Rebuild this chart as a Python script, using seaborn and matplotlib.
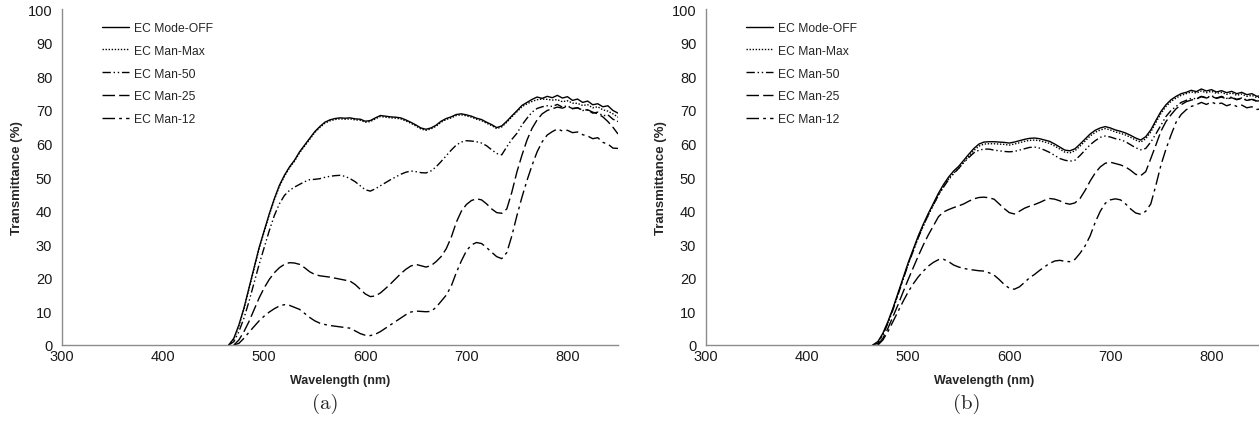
import pandas as pd
import matplotlib
matplotlib.use("Agg")
import matplotlib.pyplot as plt
import seaborn as sns

# ----------------------
# data (transmittance %, 5 nm steps)
# ----------------------
wavelength = list(range(460, 855, 5))

series_names = ["EC Mode-OFF", "EC Man-Max", "EC Man-50", "EC Man-25", "EC Man-12"]

# panel (a)
a_mode_off = [0, 0, 2, 6, 11, 17, 23, 29, 34, 39, 43.5, 47.5, 50.5, 53, 55, 57.5, 59.5, 61.5, 63.5, 65,
              66.3, 67, 67.4, 67.6, 67.5, 67.6, 67.3, 67.2, 66.6, 66.8, 67.6, 68.3, 68.1, 67.9, 67.8, 67.6,
              67.0, 66.3, 65.5, 64.6, 64.2, 64.6, 65.4, 66.6, 67.4, 67.9, 68.6, 68.8, 68.5, 68.1, 67.5, 67.1,
              66.3, 65.6, 64.7, 65.2, 66.6, 68.2, 69.7, 71.3, 72.2, 73.1, 73.8, 73.4, 74.0, 73.6, 74.3, 73.5,
              73.9, 72.8, 73.2, 72.2, 72.6, 71.5, 71.8, 70.9, 71.2, 69.8, 69.0]
a_man_max = [0, 0, 1.8, 5.7, 10.7, 16.7, 22.7, 28.7, 33.7, 38.7, 43.2, 47.2, 50.2, 52.7, 54.7, 57.2, 59.2, 61.2, 63.2, 64.7,
             66.0, 66.7, 67.1, 67.3, 67.2, 67.3, 67.0, 66.9, 66.3, 66.5, 67.3, 68.0, 67.8, 67.6, 67.5, 67.3,
             66.7, 66.0, 65.2, 64.3, 63.9, 64.3, 65.1, 66.3, 67.1, 67.6, 68.3, 68.5, 68.2, 67.8, 67.2, 66.8,
             66.0, 65.3, 64.4, 64.9, 66.3, 67.9, 69.4, 70.9, 71.8, 72.5, 73.0, 73.2, 73.1, 72.9, 73.0, 72.4,
             72.7, 72.0, 71.9, 71.3, 71.5, 70.6, 70.9, 70.0, 69.6, 68.8, 67.8]
a_man_50 = [0, 0, 1, 4, 8, 13, 18.5, 24, 29, 34, 38.5, 42, 44.5, 46, 47, 47.8, 48.6, 49.2, 49.3, 49.5,
            49.9, 50.2, 50.4, 50.5, 50.2, 49.5, 48.6, 47.4, 46.2, 45.8, 46.5, 47.4, 48.3, 49.2, 50.0, 50.8,
            51.4, 51.8, 51.6, 51.3, 51.2, 51.8, 53.0, 54.6, 56.3, 58.0, 59.5, 60.4, 60.8, 60.7, 60.5, 60.1,
            59.3, 58.1, 57.0, 56.6, 59.0, 61.2, 63.0, 65.5, 67.5, 69.3, 70.4, 70.9, 71.2, 71.0, 71.6, 70.8,
            71.2, 70.3, 70.6, 69.8, 69.9, 69.0, 69.3, 68.2, 68.5, 67.2, 66.5]
a_man_25 = [0, 0, 0, 1.5, 4, 7, 10.5, 14, 17, 19.5, 21.5, 23, 24, 24.5, 24.4, 24, 23, 21.8, 21, 20.6,
            20.4, 20.2, 19.9, 19.6, 19.3, 19.0, 18.0, 16.6, 15.2, 14.4, 14.6, 15.5, 16.8, 18.2, 19.7, 21.2,
            22.5, 23.5, 24.0, 23.6, 23.2, 23.6, 24.8, 26.3, 28.6, 32.0, 36.5, 39.8, 41.8, 43.0, 43.5, 43.2,
            42.0, 40.5, 39.4, 39.2, 40.5, 45.5, 51.5, 56.5, 61.0, 64.5, 67.0, 68.8, 69.8, 70.3, 70.8, 70.5,
            71.0, 70.4, 70.6, 69.9, 70.0, 69.3, 68.8, 67.9, 66.5, 64.8, 62.8]
a_man_12 = [0, 0, 0, 0.5, 2, 3.8, 5.5, 7.2, 8.6, 9.8, 10.8, 11.6, 12.0, 11.8, 11.2, 10.6, 9.4, 8.2, 7.2, 6.5,
            6.1, 5.8, 5.6, 5.4, 5.2, 5.0, 4.2, 3.4, 2.9, 2.8, 3.2, 4.0, 5.0, 6.0, 7.0, 8.0,
            9.0, 9.8, 10.1, 10.0, 9.9, 10.0, 11.2, 13.0, 14.8, 17.5, 21.5, 25.0, 28.0, 29.8, 30.5, 30.2,
            29.0, 27.6, 26.3, 25.7, 27.5, 32.5, 38.5, 44.0, 49.0, 53.5, 57.5, 60.5, 62.5, 63.5, 64.3, 63.7,
            63.9, 63.2, 63.4, 62.6, 62.2, 61.4, 61.7, 60.3, 59.8, 58.6, 58.5]

# panel (b)
b_mode_off = [0, 0, 1, 3.5, 7, 11, 15.5, 20, 24.5, 28.5, 32.5, 36, 39.2, 42.2, 45.2, 47.8, 50, 51.8, 53.2, 55.0,
              56.8, 58.5, 59.8, 60.4, 60.5, 60.5, 60.4, 60.3, 60.1, 60.4, 60.8, 61.2, 61.5, 61.6, 61.4, 61.0,
              60.6, 59.8, 58.9, 58.0, 57.8, 58.4, 59.8, 61.3, 62.8, 63.9, 64.6, 65.0, 64.6, 64.0, 63.6, 63.1,
              62.4, 61.6, 61.0, 62.0, 64.0, 66.8, 69.5, 71.5, 73.0, 74.0, 74.8, 75.2, 75.8, 75.4, 76.2, 75.6,
              76.0, 75.3, 75.7, 75.1, 75.5, 74.8, 75.2, 74.5, 74.8, 74.0, 74.3]
b_man_max = [0, 0, 0.8, 3.2, 6.7, 10.7, 15.2, 19.6, 24.0, 28.0, 32.0, 35.5, 38.7, 41.7, 44.7, 47.2, 49.4, 51.2, 52.6, 54.4,
             56.2, 57.9, 59.2, 59.8, 59.9, 59.9, 59.8, 59.7, 59.5, 59.8, 60.2, 60.6, 60.9, 61.0, 60.8, 60.4,
             60.0, 59.2, 58.3, 57.4, 57.2, 57.8, 59.2, 60.7, 62.2, 63.3, 64.0, 64.4, 64.0, 63.4, 63.0, 62.5,
             61.8, 61.0, 60.4, 61.4, 63.4, 66.2, 68.9, 71.0, 72.5, 73.5, 74.3, 74.8, 75.3, 75.0, 75.6, 75.1,
             75.5, 74.9, 75.2, 74.6, 75.0, 74.3, 74.7, 74.0, 74.3, 73.6, 73.9]
b_man_50 = [0, 0, 0.5, 3, 6.5, 10.5, 15, 19.5, 24, 28, 32, 35.5, 38.8, 41.8, 44.6, 47, 49.2, 51, 52.6, 54.3,
            55.8, 57.2, 58.0, 58.3, 58.3, 58.0, 57.8, 57.6, 57.5, 57.6, 58.0, 58.4, 58.8, 58.9, 58.6, 58.0,
            57.3, 56.4, 55.5, 55.0, 54.7, 55.0, 56.4, 58.0, 59.6, 60.8, 61.8, 62.2, 61.9, 61.4, 61.1, 60.5,
            59.6, 58.7, 58.1, 58.5, 60.4, 62.8, 65.4, 68.0, 69.8, 71.0, 72.2, 72.8, 73.4, 73.3, 74.0, 73.6,
            74.2, 73.5, 74.0, 73.4, 73.8, 73.1, 73.5, 72.9, 73.2, 72.6, 72.8]
b_man_25 = [0, 0, 0, 2, 5, 8.5, 12, 15.8, 19.5, 23, 26.5, 29.8, 32.8, 35.5, 38.2, 39.6, 40.3, 40.9, 41.4, 42.0,
            42.8, 43.5, 43.9, 44.0, 43.8, 43.4, 42.0, 40.6, 39.4, 39.0, 39.8, 40.7, 41.3, 41.8, 42.4, 43.1,
            43.6, 43.4, 42.9, 42.2, 41.9, 42.3, 43.6, 46.0, 48.8, 51.2, 53.0, 54.1, 54.4, 54.0, 53.6, 53.0,
            52.0, 50.8, 50.4, 51.6, 55.5, 59.5, 63.6, 66.5, 68.5, 70.3, 71.5, 72.4, 72.9, 73.2, 73.9, 73.5,
            74.0, 73.4, 73.8, 73.2, 73.6, 73.0, 73.4, 72.8, 73.1, 72.5, 72.7]
b_man_12 = [0, 0, 0, 1.5, 4, 7, 10, 13, 15.8, 18.2, 20.3, 22.0, 23.5, 24.6, 25.4, 25.5, 24.8, 23.8, 23.2, 22.8,
            22.5, 22.3, 22.1, 22.0, 21.5, 20.8, 19.5, 18.0, 16.9, 16.6, 17.3, 18.6, 20.0, 21.0, 22.2, 23.3,
            24.3, 25.0, 25.2, 24.9, 24.8, 25.5, 27.3, 29.5, 32.5, 36.5, 39.8, 42.2, 43.2, 43.5, 43.2, 42.0,
            40.5, 39.3, 38.9, 39.8, 42.0, 47.5, 53.5, 58.3, 62.5, 66.3, 68.6, 70.0, 71.0, 71.5, 72.2, 71.6,
            72.3, 71.7, 72.0, 71.2, 71.7, 71.0, 71.4, 70.6, 70.9, 70.1, 70.3]

x_ticks = [300, 400, 500, 600, 700, 800]
y_ticks = list(range(0, 101, 10))

# ----------------------
# style
# ----------------------
sns.set_style("white")
plt.rcParams['font.family'] = ['Liberation Sans', 'DejaVu Sans']
plt.rcParams['axes.unicode_minus'] = False

dash_styles = {
    "EC Mode-OFF": "",
    "EC Man-Max": (1, 1.2),
    "EC Man-50": (6, 2, 1, 2, 1, 2),
    "EC Man-25": (9, 3),
    "EC Man-12": (9, 3, 2, 3),
}
grey = "#8c8c8c"


def make_frame(values):
    rows = []
    for name, vals in zip(series_names, values):
        for i, (wl, t) in enumerate(zip(wavelength, vals)):
            # skip the flat zero run before the curve takes off
            if t == 0 and i + 1 < len(vals) and vals[i + 1] == 0:
                continue
            rows.append({"wl": wl, "T": t, "series": name})
    return pd.DataFrame(rows)


def draw_panel(ax, df):
    sns.lineplot(data=df, x="wl", y="T", style="series", style_order=series_names,
                 dashes=dash_styles, color="black", linewidth=1.0, ax=ax, legend=True)
    ax.set_xlim(300, 850)
    ax.set_ylim(0, 100)
    ax.set_xticks(x_ticks)
    ax.set_yticks(y_ticks)
    for side in ["top", "right"]:
        ax.spines[side].set_visible(False)
    for side in ["left", "bottom"]:
        ax.spines[side].set_color(grey)
        ax.spines[side].set_linewidth(1.0)
    ax.tick_params(axis="both", direction="out", length=3, width=1.0, color=grey,
                   labelsize=10.5, labelcolor="#1a1a1a")
    ax.tick_params(axis="x", pad=0)
    ax.tick_params(axis="y", pad=4)
    ax.set_xlabel("Wavelength (nm)", fontsize=9, fontweight="bold", labelpad=8)
    ax.set_ylabel("Transmittance (%)", fontsize=9.5, fontweight="bold", labelpad=3)
    handles, labels = ax.get_legend_handles_labels()
    ax.legend(handles, labels, loc="upper left", bbox_to_anchor=(0.072, 0.962),
              frameon=False, fontsize=8.7, handlelength=2.2, handletextpad=0.45,
              labelspacing=0.9, borderpad=0, borderaxespad=0)


fig = plt.figure(figsize=(12.59, 4.39), dpi=100)
ax_a = fig.add_axes([62 / 1259, 1 - 346 / 439, 556 / 1259, 336 / 439])
ax_b = fig.add_axes([706 / 1259, 1 - 346 / 439, 556 / 1259, 336 / 439])

draw_panel(ax_a, make_frame([a_mode_off, a_man_max, a_man_50, a_man_25, a_man_12]))
draw_panel(ax_b, make_frame([b_mode_off, b_man_max, b_man_50, b_man_25, b_man_12]))

fig.text(325 / 1259, 1 - 404 / 439, "(a)", family="cmr10", fontsize=15, ha="center", va="center")
fig.text(967 / 1259, 1 - 404 / 439, "(b)", family="cmr10", fontsize=15, ha="center", va="center")

fig.savefig("out.png", dpi=100)
